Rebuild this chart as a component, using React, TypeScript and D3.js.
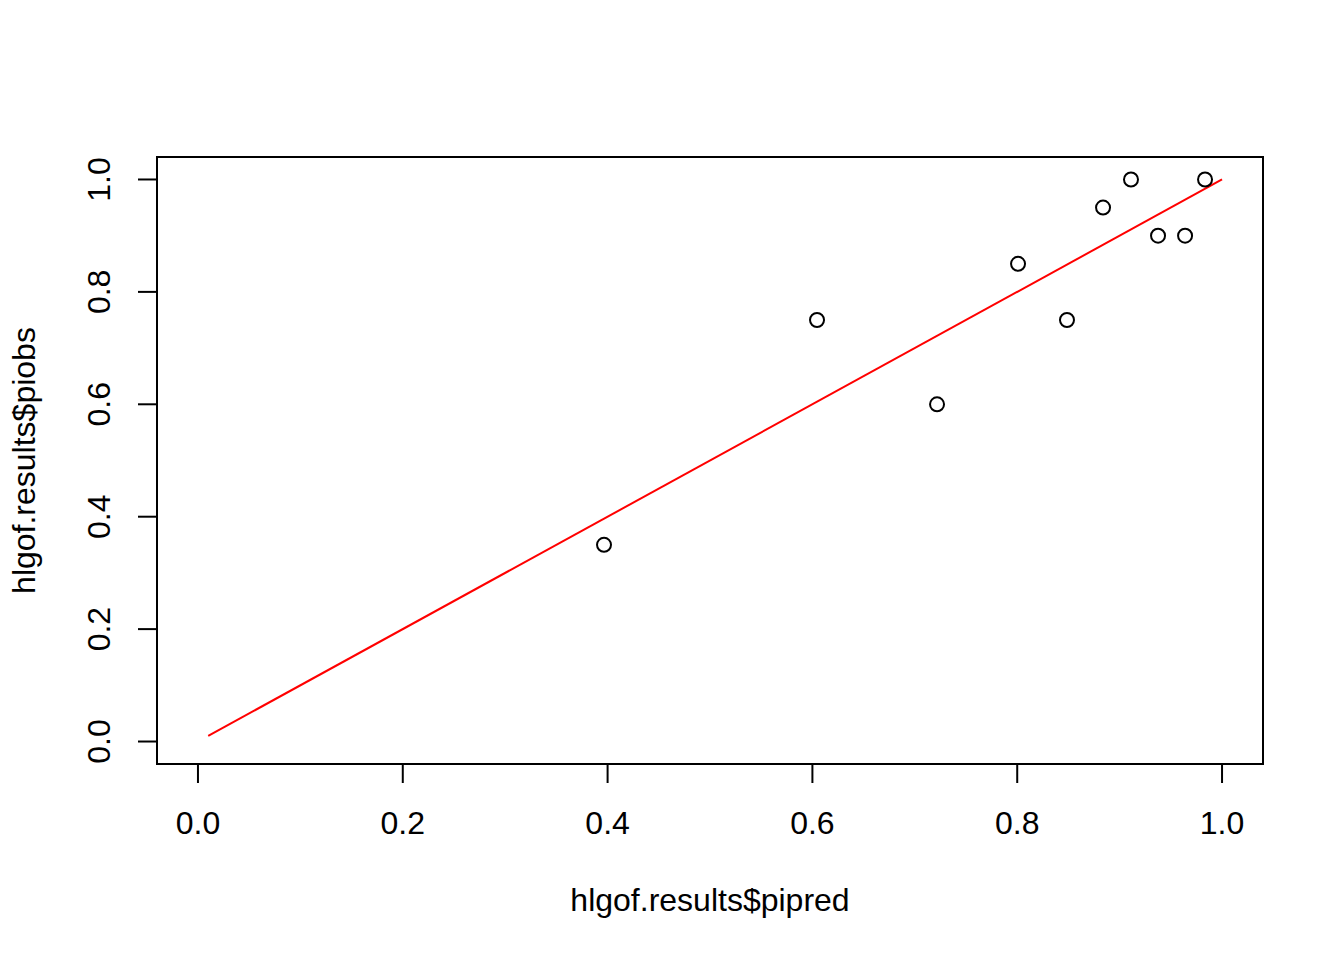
import React from "react";
import * as d3 from "d3";

const piPred = [0.3965, 0.6045, 0.7217, 0.8008, 0.8486, 0.8838, 0.9111, 0.9375, 0.9639, 0.9834];
const piObs = [0.35, 0.75, 0.6, 0.85, 0.75, 0.95, 1.0, 0.9, 0.9, 1.0];
const refLine = [[0.01, 0.01], [1.0, 1.0]];
const xTicks = [0, 0.2, 0.4, 0.6, 0.8, 1.0];
const yTicks = [0, 0.2, 0.4, 0.6, 0.8, 1.0];
const xLabel = "hlgof.results$pipred";
const yLabel = "hlgof.results$piobs";

export default function App() {
  const W = 1344, H = 960;
  const left = 157, right = 1263, top = 157, bottom = 764;
  const x = d3.scaleLinear().domain([-0.04, 1.04]).range([left, right]);
  const y = d3.scaleLinear().domain([-0.04, 1.04]).range([bottom, top]);
  const line = d3.line<number[]>().x(d => x(d[0])).y(d => y(d[1]));
  const font = "Liberation Sans, Arial, Helvetica, sans-serif";
  const fs = 32;
  return (
    <svg width={W} height={H} style={{ position: "absolute", left: 0, top: 0, background: "white" }}>
      <rect x={0} y={0} width={W} height={H} fill="white" />
      <rect x={left} y={top} width={right - left} height={bottom - top} fill="none" stroke="black" strokeWidth={2} />
      {/* x axis */}
      <line x1={x(xTicks[0])} x2={x(xTicks[xTicks.length - 1])} y1={bottom} y2={bottom} stroke="black" strokeWidth={2} />
      {xTicks.map(t => (
        <g key={"x" + t}>
          <line x1={x(t)} x2={x(t)} y1={bottom} y2={bottom + 19} stroke="black" strokeWidth={2} />
          <text x={x(t)} y={834} textAnchor="middle" fontFamily={font} fontSize={fs}>{t.toFixed(1)}</text>
        </g>
      ))}
      {/* y axis */}
      {yTicks.map(t => (
        <g key={"y" + t}>
          <line x1={left} x2={left - 19} y1={y(t)} y2={y(t)} stroke="black" strokeWidth={2} />
          <text transform={`translate(110,${y(t)}) rotate(-90)`} textAnchor="middle" fontFamily={font} fontSize={fs}>{t.toFixed(1)}</text>
        </g>
      ))}
      <text x={(left + right) / 2} y={911} textAnchor="middle" fontFamily={font} fontSize={fs}>{xLabel}</text>
      <text transform={`translate(35,${(top + bottom) / 2}) rotate(-90)`} textAnchor="middle" fontFamily={font} fontSize={fs}>{yLabel}</text>
      <path d={line(refLine) || ""} stroke="#ff0000" strokeWidth={2} fill="none" />
      {piPred.map((p, i) => (
        <circle key={i} cx={x(p)} cy={y(piObs[i])} r={7} fill="none" stroke="black" strokeWidth={2} />
      ))}
    </svg>
  );
}
